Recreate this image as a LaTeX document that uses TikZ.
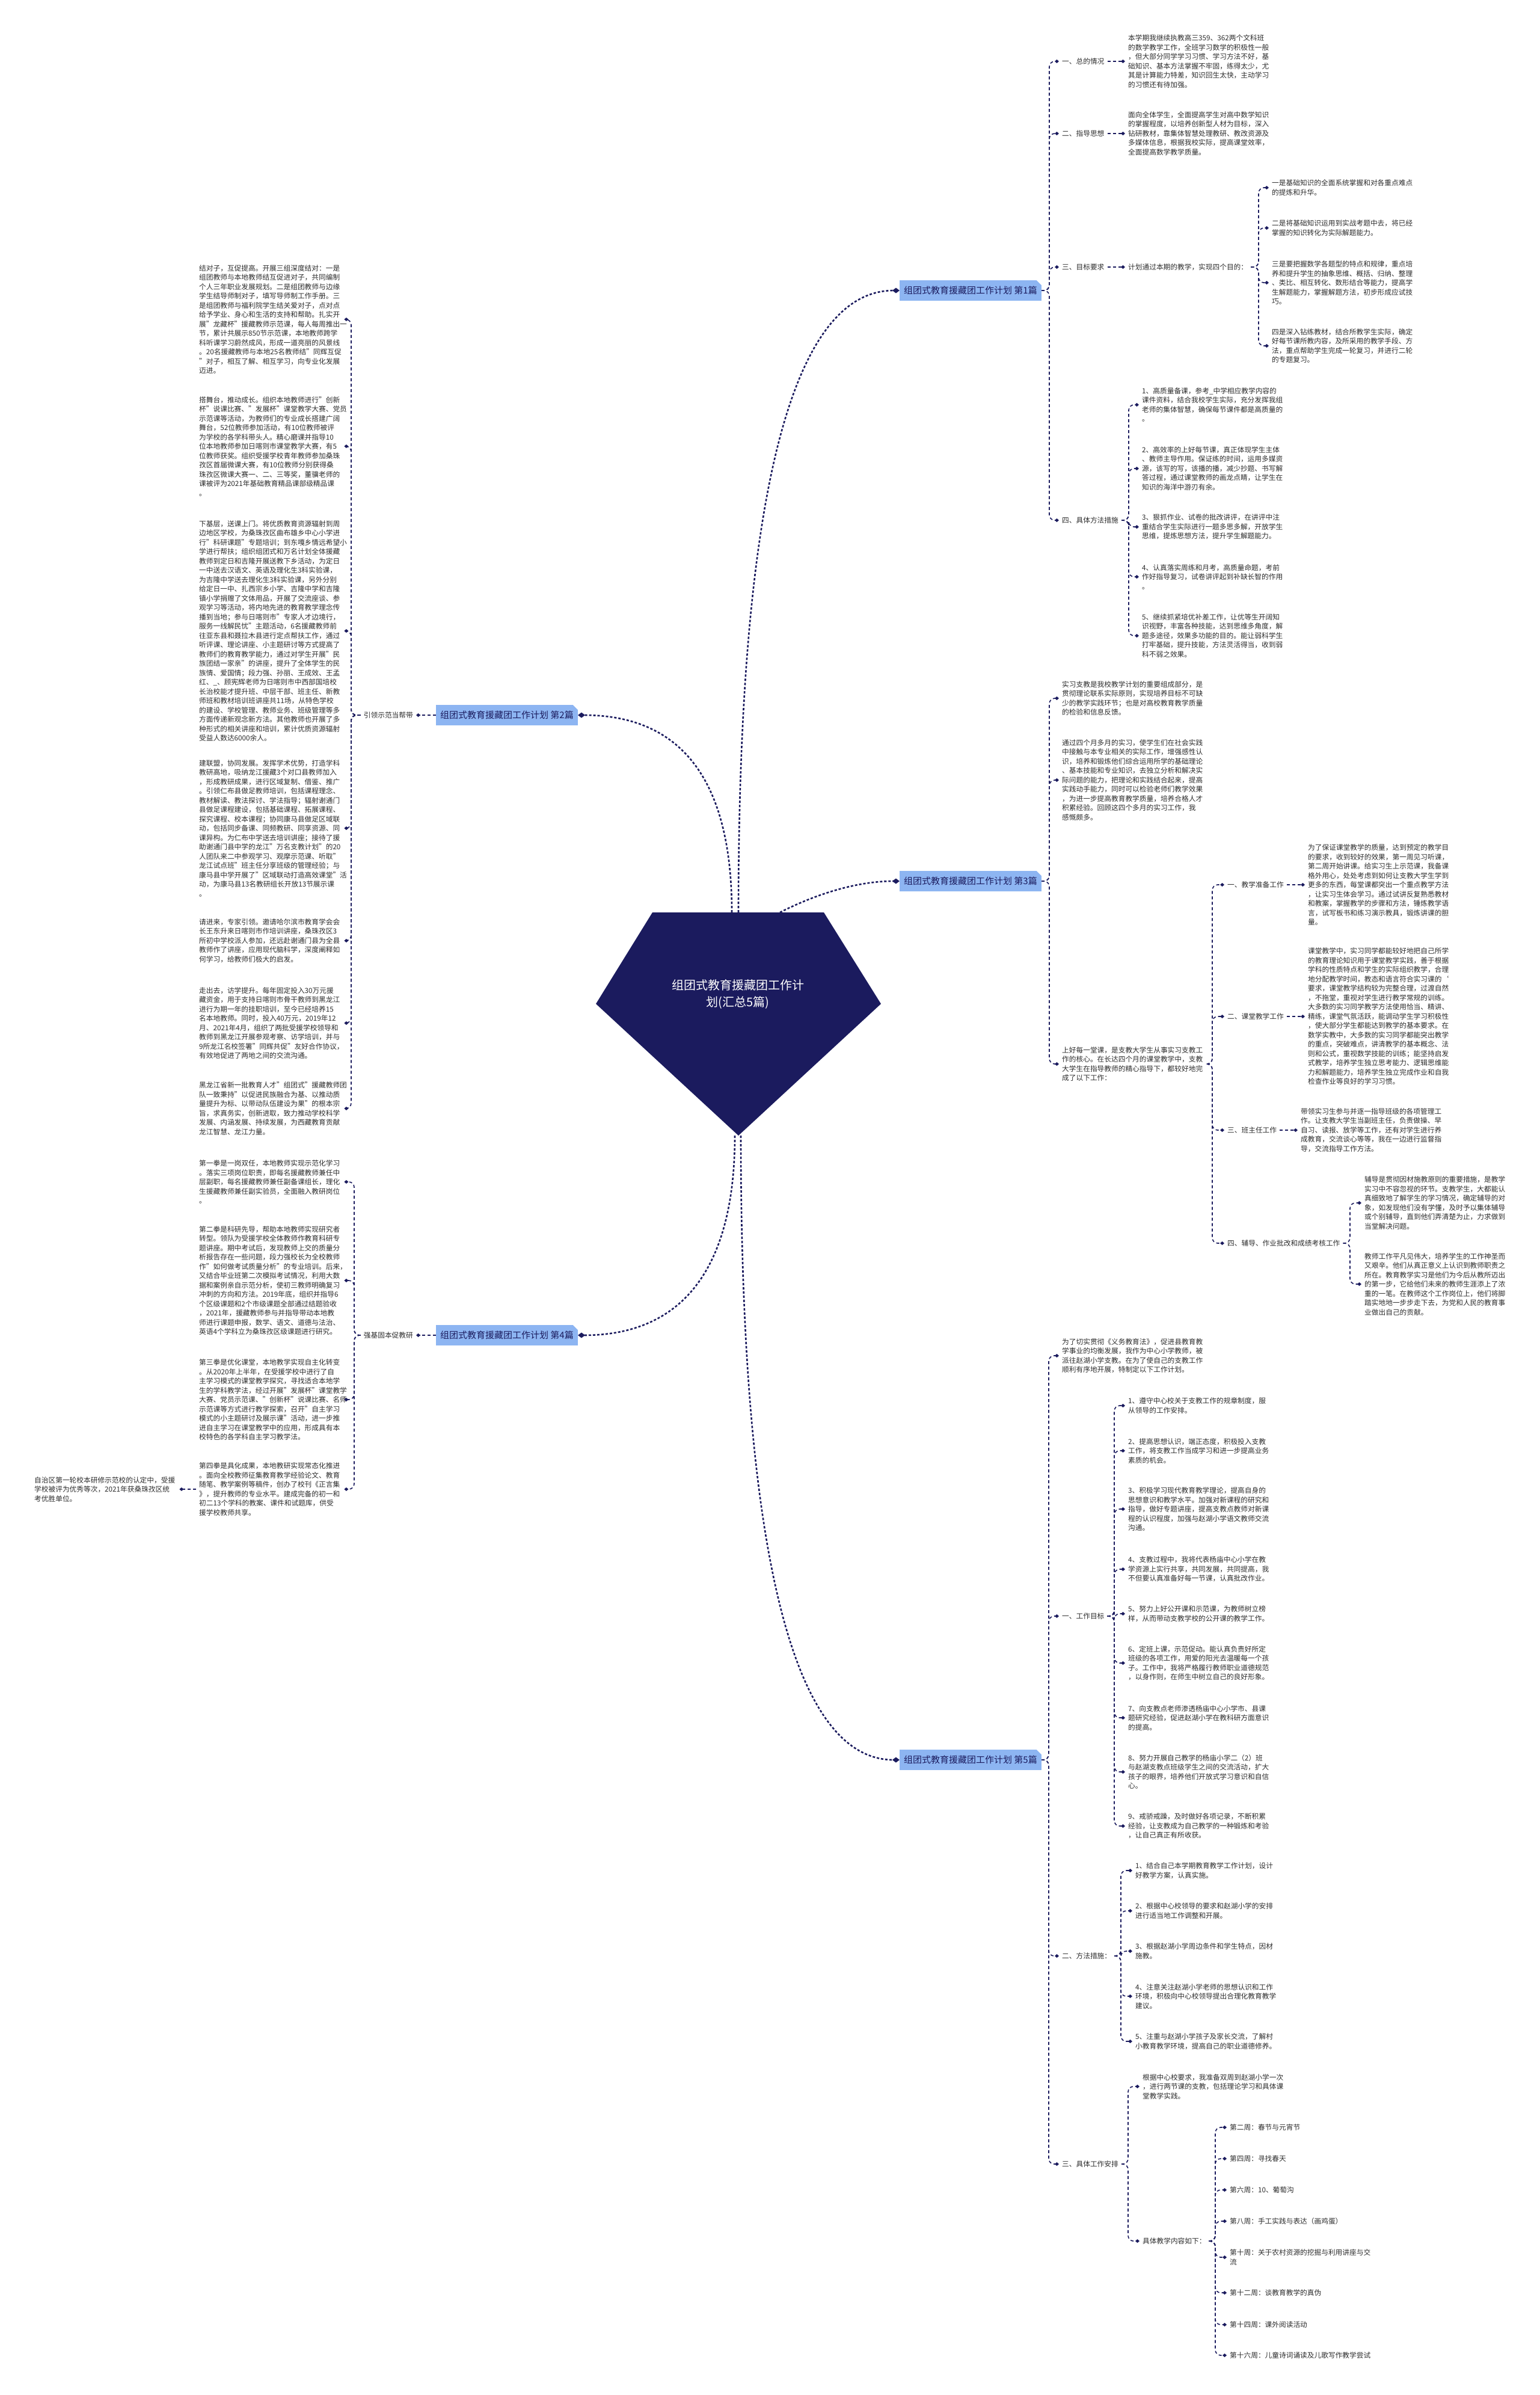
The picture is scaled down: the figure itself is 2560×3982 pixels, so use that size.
\documentclass[tikz,border=0pt]{standalone}
\usepackage{fontspec}
\setmainfont{Noto Sans CJK SC}
\usepackage{tikz}
\usetikzlibrary{arrows.meta, positioning, calc}
\definecolor{colNavy}{RGB}{27,27,94}
\definecolor{colBranch}{RGB}{141,181,242}
\definecolor{colText}{RGB}{45,45,45}

\begin{document}
\begin{tikzpicture}[
  x=1pt, y=-1pt,
  txt/.style={font=\fontsize{11.7}{15.5}\selectfont, text=colText, align=left,
              text width=236pt, inner xsep=5pt, inner ysep=1pt},
  lbl/.style={font=\fontsize{11.7}{15.5}\selectfont, text=colText, inner xsep=5pt, inner ysep=1pt},
  pian/.style={fill=colBranch, text=colNavy, font=\fontsize{15}{18}\selectfont,
               inner xsep=7pt, minimum height=34pt,
               path picture={\fill[white] (path picture bounding box.north east)
                 -- ++(-8pt,0pt) -- ++(8pt,-8pt) -- cycle;}},
  link/.style={draw=colNavy, line width=1.6pt, dash pattern=on 5pt off 4pt,
               rounded corners=9pt, -{Turned Square[length=7pt,width=6pt]}},
  trunk/.style={draw=colNavy, line width=2.6pt, dash pattern=on 4pt off 3pt,
                -{Turned Square[length=12pt,width=9pt]}},
]
\fill[white] (0,0) rectangle (2560,3982);
\useasboundingbox (0,0) rectangle (2560,3982);

% Root
\coordinate (rt1) at (1217,1517);
\coordinate (rt2) at (1228,1517);
\coordinate (rt3) at (1297,1517);
\coordinate (rb1) at (1222,1888);
\coordinate (rb2) at (1232,1888);

% ---------------- Branch 1 (right, top)
\node[pian, anchor=east] (p1) at (1732,483) {组团式教育援藏团工作计划 第1篇};
\coordinate (s1) at (1745,0);
\node[lbl, anchor=west] (p1a) at (1761,102) {一、总的情况};
\node[lbl, anchor=west] (p1b) at (1761,222) {二、指导思想};
\node[lbl, anchor=west] (p1c) at (1761,444) {三、目标要求};
\node[lbl, anchor=west] (p1d) at (1761,865) {四、具体方法措施};
\foreach \c in {p1a,p1b,p1c,p1d}
  \draw[link] (p1.east) -- (p1.east -| s1) |- (\c.west);

\node[txt, anchor=west] (p1a1) at (1871,102) {本学期我继续执教高三359、362两个文科班\\的数学教学工作，全班学习数学的积极性一般\\，但大部分同学学习习惯、学习方法不好，基\\础知识、基本方法掌握不牢固，练得太少，尤\\其是计算能力特差，知识回生太快，主动学习\\的习惯还有待加强。};
\node[txt, anchor=west] (p1b1) at (1871,222) {面向全体学生，全面提高学生对高中数学知识\\的掌握程度，以培养创新型人材为目标，深入\\钻研教材，靠集体智慧处理教研、教改资源及\\多媒体信息，根据我校实际，提高课堂效率，\\全面提高数学教学质量。};
\node[lbl, anchor=west] (p1c1) at (1871,444) {计划通过本期的教学，实现四个目的：};
\draw[link] (p1a.east) -- (p1a1.west);
\draw[link] (p1b.east) -- (p1b1.west);
\draw[link] (p1c.east) -- (p1c1.west);

% four aims
\coordinate (s1c) at (2093,0);
\node[txt, anchor=west] (m1) at (2110,312) {一是基础知识的全面系统掌握和对各重点难点\\的提炼和升华。};
\node[txt, anchor=west] (m2) at (2110,379) {二是将基础知识运用到实战考题中去，将已经\\掌握的知识转化为实际解题能力。};
\node[txt, anchor=west] (m3) at (2110,470) {三是要把握数学各题型的特点和规律，重点培\\养和提升学生的抽象思维、概括、归纳、整理\\、类比、相互转化、数形结合等能力，提高学\\生解题能力，掌握解题方法，初步形成应试技\\巧。};
\node[txt, anchor=west] (m4) at (2110,575) {四是深入钻练教材，结合所教学生实际，确定\\好每节课所教内容，及所采用的教学手段、方\\法，重点帮助学生完成一轮复习，并进行二轮\\的专题复习。};
\foreach \c in {m1,m2,m3,m4}
  \draw[link] (p1c1.east) -- (p1c1.east -| s1c) |- (\c.west);

% measures
\coordinate (s1d) at (1877,0);
\node[txt, anchor=west] (d1) at (1894,673) {1、高质量备课，参考\_中学相应教学内容的\\课件资料，结合我校学生实际，充分发挥我组\\老师的集体智慧，确保每节课件都是高质量的\\。};
\node[txt, anchor=west] (d2) at (1894,779) {2、高效率的上好每节课，真正体现学生主体\\、教师主导作用。保证练的时间，运用多媒资\\源，该写的写，该播的播，减少抄题、书写解\\答过程，通过课堂教师的画龙点睛，让学生在\\知识的海洋中游刃有余。};
\node[txt, anchor=west] (d3) at (1894,876) {3、狠抓作业、试卷的批改讲评，在讲评中注\\重结合学生实际进行一题多思多解，开放学生\\思维，提炼思想方法，提升学生解题能力。};
\node[txt, anchor=west] (d4) at (1894,959) {4、认真落实周练和月考，高质量命题，考前\\作好指导复习，试卷讲评起到补缺长智的作用\\。};
\node[txt, anchor=west] (d5) at (1894,1057) {5、继续抓紧培优补差工作，让优等生开阔知\\识视野，丰富各种技能，达到思维多角度，解\\题多途径，效果多功能的目的。能让弱科学生\\打牢基础，提升技能，方法灵活得当，收到弱\\科不弱之效果。};
\foreach \c in {d1,d2,d3,d4,d5}
  \draw[link] (p1d.east) -- (p1d.east -| s1d) |- (\c.west);

% ---------------- Branch 3 (right, middle)
\node[pian, anchor=east] (p3) at (1732,1465) {组团式教育援藏团工作计划 第3篇};
\coordinate (s3) at (1745,0);
\node[txt, anchor=west] (p3a) at (1761,1161) {实习支教是我校教学计划的重要组成部分，是\\贯彻理论联系实际原则，实现培养目标不可缺\\少的教学实践环节；也是对高校教育教学质量\\的检验和信息反馈。};
\node[txt, anchor=west] (p3b) at (1761,1297) {通过四个月多月的实习，使学生们在社会实践\\中接触与本专业相关的实际工作，增强感性认\\识，培养和锻炼他们综合运用所学的基础理论\\、基本技能和专业知识，去独立分析和解决实\\际问题的能力，把理论和实践结合起来，提高\\实践动手能力，同时可以检验老师们教学效果\\，为进一步提高教育教学质量，培养合格人才\\积累经验。回顾这四个多月的实习工作，我\\感慨颇多。};
\node[txt, anchor=west] (p3c) at (1761,1769) {上好每一堂课，是支教大学生从事实习支教工\\作的核心。在长达四个月的课堂教学中，支教\\大学生在指导教师的精心指导下，都较好地完\\成了以下工作：};
\foreach \c in {p3a,p3b,p3c}
  \draw[link] (p3.east) -- (p3.east -| s3) |- (\c.west);

\coordinate (s3c) at (2016,0);
\node[lbl, anchor=west] (w1) at (2036,1471) {一、教学准备工作};
\node[lbl, anchor=west] (w2) at (2036,1690) {二、课堂教学工作};
\node[lbl, anchor=west] (w3) at (2036,1879) {三、班主任工作};
\node[lbl, anchor=west] (w4) at (2036,2067) {四、辅导、作业批改和成绩考核工作};
\foreach \c in {w1,w2,w3,w4}
  \draw[link] (p3c.east) -- (p3c.east -| s3c) |- (\c.west);

\node[txt, anchor=west] (w1a) at (2170,1471) {为了保证课堂教学的质量，达到预定的教学目\\的要求，收到较好的效果，第一周见习听课，\\第二周开始讲课。给实习生上示范课，我备课\\格外用心，处处考虑到如何让支教大学生学到\\更多的东西，每堂课都突出一个重点教学方法\\，让实习生体会学习。通过试讲反复熟悉教材\\和教案，掌握教学的步骤和方法，锤炼教学语\\言，试写板书和练习演示教具，锻炼讲课的胆\\量。};
\node[txt, anchor=west] (w2a) at (2170,1690) {课堂教学中，实习同学都能较好地把自己所学\\的教育理论知识用于课堂教学实践，善于根据\\学科的性质特点和学生的实际组织教学，合理\\地分配教学时间，教态和语言符合实习课的`\\要求，课堂教学结构较为完整合理，过渡自然\\，不拖堂，重视对学生进行教学常规的训练。\\大多数的实习同学教学方法使用恰当、精讲、\\精练，课堂气氛活跃，能调动学生学习积极性\\，使大部分学生都能达到教学的基本要求。在\\数学实教中，大多数的实习同学都能突出教学\\的重点，突破难点，讲清教学的基本概念、法\\则和公式，重视数学技能的训练；能坚持启发\\式教学，培养学生独立思考能力、逻辑思维能\\力和解题能力，培养学生独立完成作业和自我\\检查作业等良好的学习习惯。};
\node[txt, anchor=west] (w3a) at (2158,1879) {带领实习生参与并逐一指导班级的各项管理工\\作。让支教大学生当副班主任，负责做操、早\\自习、读报、放学等工作，还有对学生进行养\\成教育，交流谈心等等，我在一边进行监督指\\导，交流指导工作方法。};
\draw[link] (w1.east) -- (w1a.west);
\draw[link] (w2.east) -- (w2a.west);
\draw[link] (w3.east) -- (w3a.west);

\coordinate (s3d) at (2245,0);
\node[txt, anchor=west] (w4a) at (2264,2000) {辅导是贯彻因材施教原则的重要措施，是教学\\实习中不容忽视的环节。支教学生，大都能认\\真细致地了解学生的学习情况，确定辅导的对\\象，如发现他们没有学懂，及时予以集体辅导\\或个别辅导，直到他们弄清楚为止，力求做到\\当堂解决问题。};
\node[txt, anchor=west] (w4b) at (2264,2135) {教师工作平凡见伟大，培养学生的工作神圣而\\又艰辛。他们从真正意义上认识到教师职责之\\所在。教育教学实习是他们为今后从教所迈出\\的第一步，它给他们未来的教师生涯添上了浓\\重的一笔。在教师这个工作岗位上，他们将脚\\踏实地地一步步走下去，为党和人民的教育事\\业做出自己的贡献。};
\foreach \c in {w4a,w4b}
  \draw[link] (w4.east) -- (w4.east -| s3d) |- (\c.west);

% ---------------- Branch 5 (right, bottom)
\node[pian, anchor=east] (p5) at (1732,2926) {组团式教育援藏团工作计划 第5篇};
\coordinate (s5) at (1744,0);
\node[txt, anchor=west] (p5a) at (1761,2254) {为了切实贯彻《义务教育法》，促进县教育教\\学事业的均衡发展，我作为中心小学教师，被\\派往赵湖小学支教。在为了使自己的支教工作\\顺利有序地开展，特制定以下工作计划。};
\node[lbl, anchor=west] (p5b) at (1761,2687) {一、工作目标};
\node[lbl, anchor=west] (p5c) at (1761,3252) {二、方法措施：};
\node[lbl, anchor=west] (p5d) at (1761,3598) {三、具体工作安排};
\foreach \c in {p5a,p5b,p5c,p5d}
  \draw[link] (p5.east) -- (p5.east -| s5) |- (\c.west);

% work aims
\coordinate (s5b) at (1853,0);
\node[txt, anchor=west] (g1) at (1871,2337) {1、遵守中心校关于支教工作的规章制度，服\\从领导的工作安排。};
\node[txt, anchor=west] (g2) at (1871,2412) {2、提高思想认识，端正态度，积极投入支教\\工作，将支教工作当成学习和进一步提高业务\\素质的机会。};
\node[txt, anchor=west] (g3) at (1871,2509) {3、积极学习现代教育教学理论，提高自身的\\思想意识和教学水平。加强对新课程的研究和\\指导，做好专题讲座，提高支教点教师对新课\\程的认识程度，加强与赵湖小学语文教师交流\\沟通。};
\node[txt, anchor=west] (g4) at (1871,2609) {4、支教过程中，我将代表杨庙中心小学在教\\学资源上实行共享，共同发展，共同提高，我\\不但要认真准备好每一节课，认真批改作业。};
\node[txt, anchor=west] (g5) at (1871,2683) {5、努力上好公开课和示范课，为教师树立榜\\样，从而带动支教学校的公开课的教学工作。};
\node[txt, anchor=west] (g6) at (1871,2765) {6、定班上课，示范促动。能认真负责好所定\\班级的各项工作，用爱的阳光去温暖每一个孩\\子。工作中，我将严格履行教师职业道德规范\\，以身作则，在师生中树立自己的良好形象。};
\node[txt, anchor=west] (g7) at (1871,2856) {7、向支教点老师渗透杨庙中心小学市、县课\\题研究经验，促进赵湖小学在教科研方面意识\\的提高。};
\node[txt, anchor=west] (g8) at (1871,2946) {8、努力开展自己教学的杨庙小学二（2）班\\与赵湖支教点班级学生之间的交流活动，扩大\\孩子的眼界，培养他们开放式学习意识和自信\\心。};
\node[txt, anchor=west] (g9) at (1871,3036) {9、戒骄戒躁，及时做好各项记录，不断积累\\经验，让支教成为自己教学的一种锻炼和考验\\，让自己真正有所收获。};
\foreach \c in {g1,g2,g3,g4,g5,g6,g7,g8,g9}
  \draw[link] (p5b.east) -- (p5b.east -| s5b) |- (\c.west);

% methods
\coordinate (s5c) at (1864,0);
\node[txt, anchor=west] (f1) at (1883,3110) {1、结合自己本学期教育教学工作计划，设计\\好教学方案，认真实施。};
\node[txt, anchor=west] (f2) at (1883,3177) {2、根据中心校领导的要求和赵湖小学的安排\\进行适当地工作调整和开展。};
\node[txt, anchor=west] (f3) at (1883,3244) {3、根据赵湖小学周边条件和学生特点，因材\\施教。};
\node[txt, anchor=west] (f4) at (1883,3319) {4、注意关注赵湖小学老师的思想认识和工作\\环境，积极向中心校领导提出合理化教育教学\\建议。};
\node[txt, anchor=west] (f5) at (1883,3394) {5、注重与赵湖小学孩子及家长交流，了解村\\小教育教学环境，提高自己的职业道德修养。};
\foreach \c in {f1,f2,f3,f4,f5}
  \draw[link] (p5c.east) -- (p5c.east -| s5c) |- (\c.west);

% schedule
\coordinate (s5d) at (1876,0);
\node[txt, anchor=west] (h1) at (1895,3469) {根据中心校要求，我准备双周到赵湖小学一次\\，进行两节课的支教，包括理论学习和具体课\\堂教学实践。};
\node[lbl, anchor=west] (h2) at (1895,3726) {具体教学内容如下：};
\foreach \c in {h1,h2}
  \draw[link] (p5d.east) -- (p5d.east -| s5d) |- (\c.west);

\coordinate (s5e) at (2021,0);
\node[lbl, anchor=west] (k1) at (2040,3537) {第二周：春节与元宵节};
\node[lbl, anchor=west] (k2) at (2040,3589) {第四周：寻找春天};
\node[lbl, anchor=west] (k3) at (2040,3641) {第六周：10、葡萄沟};
\node[lbl, anchor=west] (k4) at (2040,3693) {第八周：手工实践与表达（画鸡蛋）};
\node[txt, anchor=west] (k5) at (2040,3753) {第十周：关于农村资源的挖掘与利用讲座与交\\流};
\node[lbl, anchor=west] (k6) at (2040,3812) {第十二周：谈教育教学的真伪};
\node[lbl, anchor=west] (k7) at (2040,3865) {第十四周：课外阅读活动};
\node[lbl, anchor=west] (k8) at (2040,3916) {第十六周：儿童诗词诵读及儿歌写作教学尝试};
\foreach \c in {k1,k2,k3,k4,k5,k6,k7,k8}
  \draw[link] (h2.east) -- (h2.east -| s5e) |- (\c.west);

% ---------------- Branch 2 (left, top)
\node[pian, anchor=east] (p2) at (961,1189) {组团式教育援藏团工作计划 第2篇};
\node[lbl, anchor=east] (p2a) at (692,1189) {引领示范当帮带};
\draw[link] (p2.west) -- (p2a.east);
\coordinate (s2) at (584,0);
\node[txt, anchor=west] (e1) at (326,531) {结对子，互促提高。开展三组深度结对：一是\\组团教师与本地教师结互促进对子，共同编制\\个人三年职业发展规划。二是组团教师与边缘\\学生结导师制对子，填写导师制工作手册。三\\是组团教师与福利院学生结关爱对子，点对点\\给予学业、身心和生活的支持和帮助。扎实开\\展"龙藏杯"援藏教师示范课，每人每周推出一\\节，累计共展示850节示范课，本地教师跨学\\科听课学习蔚然成风，形成一道亮丽的风景线\\。20名援藏教师与本地25名教师结"同辉互促\\"对子，相互了解、相互学习，向专业化发展\\迈进。};
\node[txt, anchor=west] (e2) at (326,742) {搭舞台，推动成长。组织本地教师进行"创新\\杯"说课比赛、"发展杯"课堂教学大赛、党员\\示范课等活动，为教师们的专业成长搭建广阔\\舞台，52位教师参加活动，有10位教师被评\\为学校的各学科带头人。精心磨课并指导10\\位本地教师参加日喀则市课堂教学大赛，有5\\位教师获奖。组织受援学校青年教师参加桑珠\\孜区首届微课大赛，有10位教师分别获得桑\\珠孜区微课大赛一、二、三等奖，董骥老师的\\课被评为2021年基础教育精品课部级精品课\\。};
\node[txt, anchor=west] (e3) at (326,1049) {下基层，送课上门。将优质教育资源辐射到周\\边地区学校，为桑珠孜区曲布雄乡中心小学进\\行"科研课题"专题培训；到东嘎乡情远希望小\\学进行帮扶；组织组团式和万名计划全体援藏\\教师到定日和吉隆开展送教下乡活动，为定日\\一中送去汉语文、英语及理化生3科实验课，\\为吉隆中学送去理化生3科实验课，另外分别\\给定日一中、扎西宗乡小学、吉隆中学和吉隆\\镇小学捐赠了文体用品，开展了交流座谈、参\\观学习等活动，将内地先进的教育教学理念传\\播到当地；参与日喀则市"专家人才边境行，\\服务一线解民忧"主题活动，6名援藏教师前\\往亚东县和聂拉木县进行定点帮扶工作，通过\\听评课、理论讲座、小主题研讨等方式提高了\\教师们的教育教学能力，通过对学生开展"民\\族团结一家亲"的讲座，提升了全体学生的民\\族情、爱国情；段力强、孙丽、王成效、王孟\\红、\_、顾宪辉老师为日喀则市中西部国培校\\长治校能才提升班、中层干部、班主任、新教\\师班和教材培训班讲座共11场，从特色学校\\的建设、学校管理、教师业务、班级管理等多\\方面传递新观念新方法。其他教师也开展了多\\种形式的相关讲座和培训，累计优质资源辐射\\受益人数达6000余人。};
\node[txt, anchor=west] (e4) at (326,1377) {建联盟，协同发展。发挥学术优势，打造学科\\教研高地，吸纳龙江援藏3个对口县教师加入\\，形成教研成果，进行区域复制、借鉴、推广\\。引领仁布县做足教师培训，包括课程理念、\\教材解读、教法探讨、学法指导；辐射谢通门\\县做足课程建设，包括基础课程、拓展课程、\\探究课程、校本课程；协同康马县做足区域联\\动，包括同步备课、同频教研、同享资源、同\\课异构。为仁布中学送去培训讲座；接待了援\\助谢通门县中学的龙江"万名支教计划"的20\\人团队来二中参观学习、观摩示范课、听取"\\龙江试点班"班主任分享班级的管理经验；与\\康马县中学开展了"区域联动打造高效课堂"活\\动，为康马县13名教研组长开放13节展示课\\。};
\node[txt, anchor=west] (e5) at (326,1564) {请进来，专家引领。邀请哈尔滨市教育学会会\\长王东升来日喀则市作培训讲座，桑珠孜区3\\所初中学校派人参加，还远赴谢通门县为全县\\教师作了讲座，应用现代脑科学，深度阐释如\\何学习，给教师们极大的启发。};
\node[txt, anchor=west] (e6) at (326,1701) {走出去，访学提升。每年固定投入30万元援\\藏资金，用于支持日喀则市骨干教师到黑龙江\\进行为期一年的挂职培训，至今已经培养15\\名本地教师。同时，投入40万元，2019年12\\月、2021年4月，组织了两批受援学校领导和\\教师到黑龙江开展参观考察、访学培训，并与\\9所龙江名校签署"同辉共促"友好合作协议，\\有效地促进了两地之间的交流沟通。};
\node[txt, anchor=west] (e7) at (326,1843) {黑龙江省新一批教育人才"组团式"援藏教师团\\队一致秉持"以促进民族融合为基、以推动质\\量提升为标、以带动队伍建设为果"的根本宗\\旨，求真务实，创新进取，致力推动学校科学\\发展、内涵发展、持续发展，为西藏教育贡献\\龙江智慧、龙江力量。};
\foreach \c in {e1,e2,e3,e4,e5,e6,e7}
  \draw[link] (p2a.west) -- (p2a.west -| s2) |- (\c.east);

% ---------------- Branch 4 (left, bottom)
\node[pian, anchor=east] (p4) at (961,2220) {组团式教育援藏团工作计划 第4篇};
\node[lbl, anchor=east] (p4a) at (692,2220) {强基固本促教研};
\draw[link] (p4.west) -- (p4a.east);
\coordinate (s4) at (589,0);
\node[txt, anchor=west] (q1) at (326,1965) {第一拳是一岗双任，本地教师实现示范化学习\\。落实三项岗位职责，即每名援藏教师兼任中\\层副职，每名援藏教师兼任副备课组长，理化\\生援藏教师兼任副实验员，全面融入教研岗位\\。};
\node[txt, anchor=west] (q2) at (326,2129) {第二拳是科研先导，帮助本地教师实现研究者\\转型。领队为受援学校全体教师作教育科研专\\题讲座。期中考试后，发现教师上交的质量分\\析报告存在一些问题，段力强校长为全校教师\\作"如何做考试质量分析"的专业培训。后来，\\又结合毕业班第二次模拟考试情况，利用大数\\据和案例亲自示范分析，使初三教师明确复习\\冲刺的方向和方法。2019年底，组织并指导6\\个区级课题和2个市级课题全部通过结题验收\\，2021年，援藏教师参与并指导带动本地教\\师进行课题申报，数学、语文、道德与法治、\\英语4个学科立为桑珠孜区级课题进行研究。};
\node[txt, anchor=west] (q3) at (326,2327) {第三拳是优化课堂，本地教学实现自主化转变\\。从2020年上半年，在受援学校中进行了自\\主学习模式的课堂教学探究，寻找适合本地学\\生的学科教学法，经过开展"发展杯"课堂教学\\大赛、党员示范课、"创新杯"说课比赛、名师\\示范课等方式进行教学探索，召开"自主学习\\模式的小主题研讨及展示课"活动，进一步推\\进自主学习在课堂教学中的应用，形成具有本\\校特色的各学科自主学习教学法。};
\node[txt, anchor=west] (q4) at (326,2476) {第四拳是具化成果，本地教研实现常态化推进\\。面向全校教师征集教育教学经验论文、教育\\随笔、教学案例等稿件，创办了校刊《正言集\\》，提升教师的专业水平。建成完备的初一和\\初二13个学科的教案、课件和试题库，供受\\援学校教师共享。};
\foreach \c in {q1,q2,q3,q4}
  \draw[link] (p4a.west) -- (p4a.west -| s4) |- (\c.east);
\node[txt, anchor=west] (q4a) at (52,2476) {自治区第一轮校本研修示范校的认定中，受援\\学校被评为优秀等次，2021年获桑珠孜区统\\考优胜单位。};
\draw[link] (q4.west) -- (q4a.east);

% ---------------- Trunks from root
\draw[trunk] (rt2) .. controls (1228,828) and (1316,483) .. (p1.west);
\draw[trunk] (rt1) .. controls (1217,1298) and (1134,1189) .. (p2.east);
\draw[trunk] (rt3) .. controls (1350,1490) and (1420,1465) .. (p3.west);
\draw[trunk] (rb1) .. controls (1222,2109) and (1135,2220) .. (p4.east);
\draw[trunk] (rb2) .. controls (1232,2580) and (1319,2926) .. (p5.west);

% Root shape on top
\fill[colNavy] (1085,1517) -- (1370,1517) -- (1465,1669) -- (1228,1888) -- (991,1669) -- cycle;
\node[font=\fontsize{20}{28}\selectfont, text=white, align=center] (r) at (1227,1653)
  {组团式教育援藏团工作计\\划(汇总5篇)};

\end{tikzpicture}
\end{document}
